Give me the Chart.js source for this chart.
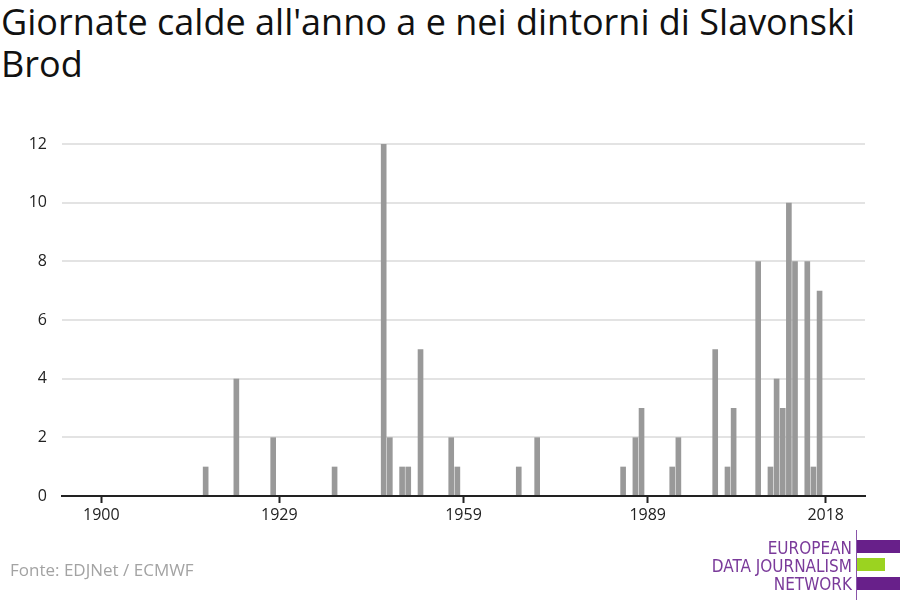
<!DOCTYPE html>
<html>
<head>
<meta charset="utf-8">
<script src="https://cdn.jsdelivr.net/npm/chart.js@4/dist/chart.umd.min.js"></script>
<style>
  html, body { margin: 0; padding: 0; background: #fff; }
  body { width: 900px; height: 600px; position: relative; overflow: hidden; font-family: "Open Sans", sans-serif; }
  #title { position: absolute; left: 1px; top: 1px; width: 890px; font-size: 36px; line-height: 42px; color: #111; }
  #wrap { position: absolute; left: 0; top: 0; width: 900px; height: 600px; }
  #source { position: absolute; left: 10px; top: 558px; font-size: 17px; color: #a3a3a3; }
  .logo-txt { position: absolute; right: 48px; font-family: "Liberation Sans Narrow", "DejaVu Sans Condensed", sans-serif; font-size: 17px; color: #7a3a9a; line-height: 18px; white-space: nowrap; }
  .logo-bar { position: absolute; left: 857px; height: 13px; }
  #vline { position: absolute; left: 856px; top: 530px; width: 1px; height: 70px; background: #8a55aa; }
</style>
</head>
<body>
<div id="title">Giornate calde all'anno a e nei dintorni di Slavonski Brod</div>
<div id="wrap"><canvas id="chart"></canvas></div>
<div id="source">Fonte: EDJNet / ECMWF</div>
<div id="vline"></div>
<div class="logo-txt" style="top:539px">EUROPEAN</div>
<div class="logo-txt" style="top:557px">DATA JOURNALISM</div>
<div class="logo-txt" style="top:575px">NETWORK</div>
<div class="logo-bar" style="top:540px; width:43px; background:#68208a"></div>
<div class="logo-bar" style="top:558px; width:28px; background:#9bd320"></div>
<div class="logo-bar" style="top:577px; width:43px; background:#68208a"></div>
<script>
const years = [1917, 1922, 1928, 1938, 1946, 1947, 1949, 1950, 1952, 1957, 1958, 1968, 1971,
  1985, 1987, 1988, 1993, 1994, 2000, 2002, 2003, 2007, 2009, 2010, 2011, 2012, 2013, 2015, 2016, 2017];
const hotDays = [1, 4, 2, 1, 12, 2, 1, 1, 5, 2, 1, 1, 2,
  1, 2, 3, 1, 2, 5, 1, 3, 8, 1, 4, 3, 10, 8, 8, 1, 7];
const xTicks = [1900, 1929, 1959, 1989, 2018];
const yTicks = [0, 2, 4, 6, 8, 10, 12];

const points = years.map((y, i) => ({ x: y, y: hotDays[i] }));

new Chart(document.getElementById('chart'), {
  type: 'bar',
  data: {
    datasets: [{
      data: points,
      backgroundColor: '#999999',
      borderWidth: 0,
      categoryPercentage: 1,
      barPercentage: 0.92
    }]
  },
  options: {
    responsive: true,
    maintainAspectRatio: false,
    animation: false,
    layout: { padding: { top: 144, right: 35, bottom: 62, left: 0 } },
    plugins: { legend: { display: false }, tooltip: { enabled: false } },
    scales: {
      x: {
        type: 'linear',
        offset: false,
        min: 1893.6,
        max: 2024.4,
        afterBuildTicks: s => { s.ticks = xTicks.map(v => ({ value: v })); },
        afterFit: s => { s.height = 42; },
        border: { color: '#222', width: 2 },
        grid: { offset: false, drawOnChartArea: false, drawTicks: true, tickLength: 7, tickColor: '#222', tickWidth: 2 },
        ticks: { color: '#222', font: { family: 'Open Sans', size: 16 }, padding: 3, maxRotation: 0, callback: v => String(v) }
      },
      y: {
        min: 0,
        max: 12,
        afterBuildTicks: s => { s.ticks = yTicks.map(v => ({ value: v })); },
        afterFit: s => { s.width = 62; },
        border: { display: false },
        grid: { drawTicks: false, lineWidth: 2, color: c => c.tick && c.tick.value === 0 ? 'rgba(0,0,0,0)' : '#e3e3e3' },
        ticks: { color: '#222', font: { family: 'Open Sans', size: 16 }, padding: 15 }
      }
    }
  }
});
</script>
</body>
</html>
